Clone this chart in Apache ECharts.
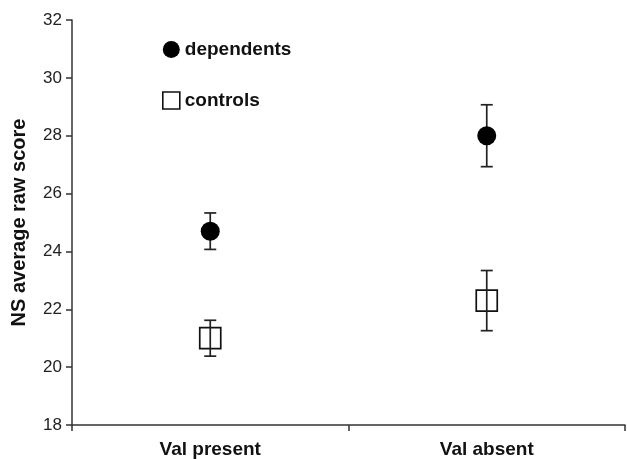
<!DOCTYPE html>
<html><head><meta charset="utf-8">
<script src="https://cdn.jsdelivr.net/npm/echarts@6/dist/echarts.min.js"></script>
<style>html,body{margin:0;padding:0;background:#fff}#c{width:627px;height:459px}</style>
</head><body><div id="c"></div>
<script>
const categories = ['Val present', 'Val absent'];
const dependentsMean = [24.7, 28.0];
const dependentsErr = [0.63, 1.07];
const controlsMean = [21.0, 22.3];
const controlsErr = [0.62, 1.04];
const yTicks = [18, 20, 22, 24, 26, 28, 30, 32];

const chart = echarts.init(document.getElementById('c'));
const font = 'Liberation Sans, Arial, sans-serif';
function errData(mean, err) {
  return mean.map((m, i) => [i, m - err[i], m + err[i]]);
}
function errRender(params, api) {
  const x = api.value(0);
  const lo = api.coord([x, api.value(1)]);
  const hi = api.coord([x, api.value(2)]);
  const hw = 6;
  const st = { stroke: '#222', lineWidth: 1.7 };
  return {
    type: 'group',
    children: [
      { type: 'line', shape: { x1: hi[0], y1: hi[1], x2: lo[0], y2: lo[1] }, style: st },
      { type: 'line', shape: { x1: hi[0] - hw, y1: hi[1], x2: hi[0] + hw, y2: hi[1] }, style: st },
      { type: 'line', shape: { x1: lo[0] - hw, y1: lo[1], x2: lo[0] + hw, y2: lo[1] }, style: st }
    ]
  };
}
chart.setOption({
  animation: false,
  backgroundColor: '#fff',
  grid: { left: 72, right: 2, top: 20, bottom: 34 },
  legend: {
    orient: 'vertical', left: 157, top: 35, itemGap: 32, padding: 5,
    itemWidth: 17, itemHeight: 17,
    textStyle: { fontFamily: font, fontSize: 19, fontWeight: 'bold', color: '#111' },
    data: [
      { name: 'dependents', icon: 'circle', itemStyle: { color: '#000', borderWidth: 0, opacity: 1 } },
      { name: 'controls', icon: 'rect', itemStyle: { color: '#fff', borderColor: '#111', borderWidth: 1.6, opacity: 1 } }
    ]
  },
  xAxis: {
    type: 'category', data: categories, boundaryGap: true,
    axisLine: { lineStyle: { color: '#333', width: 1.5 } },
    axisTick: { show: true, length: 6, lineStyle: { color: '#333', width: 1.5 } },
    axisLabel: { fontFamily: font, fontSize: 19, fontWeight: 'bold', color: '#111', margin: 15 },
    splitLine: { show: false }
  },
  yAxis: {
    type: 'value', min: 18, max: 32, interval: 2,
    name: 'NS average raw score', nameLocation: 'middle', nameGap: 43,
    nameTextStyle: { fontFamily: font, fontSize: 20, fontWeight: 'bold', color: '#111' },
    axisLine: { show: true, lineStyle: { color: '#333', width: 1.5 } },
    axisTick: { show: true, length: 6, lineStyle: { color: '#333', width: 1.5 } },
    axisLabel: { fontFamily: font, fontSize: 17, color: '#222', margin: 10,
      formatter: v => yTicks.includes(v) ? String(v) : '' },
    splitLine: { show: false }
  },
  series: [
    {
      name: 'controls', type: 'scatter', symbol: 'rect', symbolSize: 21, z: 2,
      itemStyle: { color: 'rgba(255,255,255,0)', borderColor: '#111', borderWidth: 1.7, opacity: 1 },
      data: controlsMean
    },
    {
      name: 'controlsErr', type: 'custom', renderItem: errRender, z: 3,
      data: errData(controlsMean, controlsErr)
    },
    {
      name: 'dependentsErr', type: 'custom', renderItem: errRender, z: 3,
      data: errData(dependentsMean, dependentsErr)
    },
    {
      name: 'dependents', type: 'scatter', symbol: 'circle', symbolSize: 19, z: 4,
      itemStyle: { color: '#000', opacity: 1 },
      data: dependentsMean
    }
  ]
});
</script></body></html>
